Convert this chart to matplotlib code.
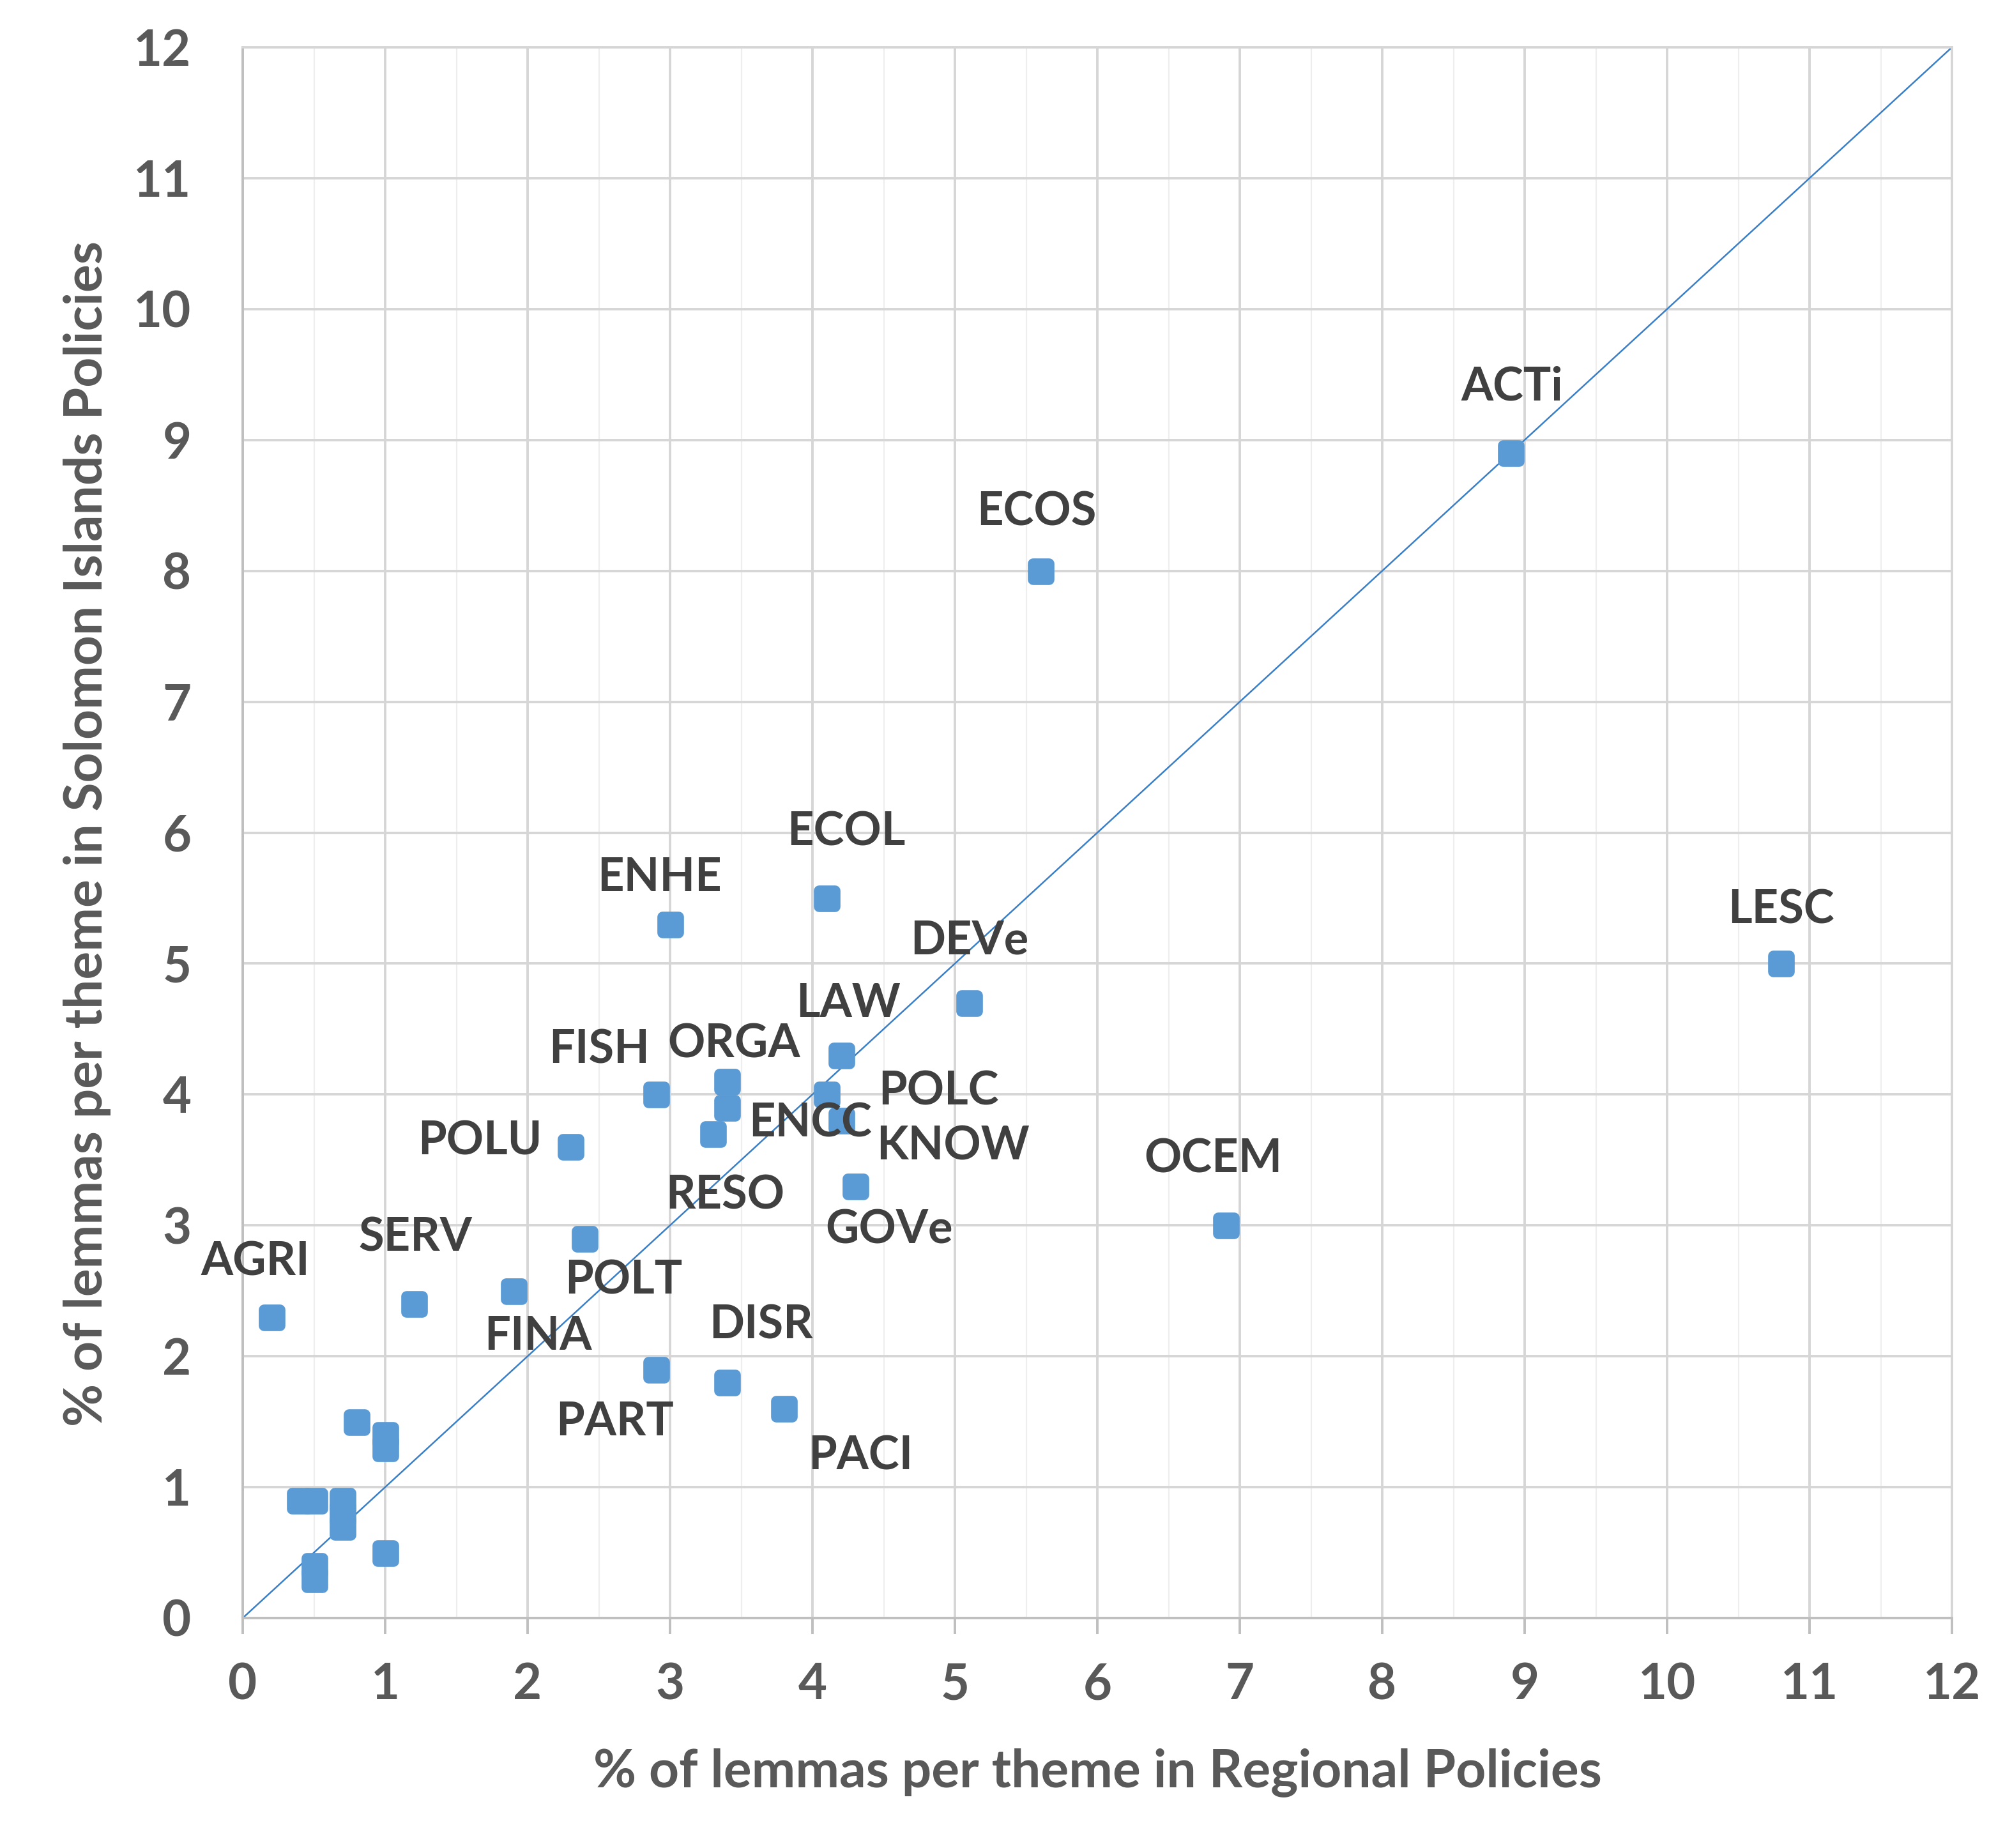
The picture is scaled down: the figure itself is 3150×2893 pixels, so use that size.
import matplotlib
matplotlib.use("Agg")
import matplotlib.pyplot as plt
from matplotlib.ticker import MultipleLocator
from matplotlib.markers import MarkerStyle

# ---- data ----
themes = ["ACTi", "ECOS", "LESC", "OCEM", "ECOL", "ENHE", "DEVe", "LAW",
          "FISH", "ORGA", "POLC", "ENCC", "KNOW", "RESO", "POLU", "GOVe",
          "POLT", "FINA", "SERV", "AGRI", "PART", "DISR", "PACI",
          "", "", "", "", "", "", "", "", "", "", ""]
regional = [8.9, 5.6, 10.8, 6.9, 4.1, 3.0, 5.1, 4.2,
            2.9, 3.4, 4.1, 3.4, 4.2, 3.3, 2.3, 4.3,
            2.4, 1.9, 1.2, 0.2, 2.9, 3.4, 3.8,
            0.8, 1.0, 1.0, 0.4, 0.5, 0.7, 0.7, 0.7, 1.0, 0.5, 0.5]
solomon = [8.9, 8.0, 5.0, 3.0, 5.5, 5.3, 4.7, 4.3,
           4.0, 4.1, 4.0, 3.9, 3.8, 3.7, 3.6, 3.3,
           2.9, 2.5, 2.4, 2.3, 1.9, 1.8, 1.6,
           1.5, 1.4, 1.3, 0.9, 0.9, 0.9, 0.8, 0.7, 0.5, 0.4, 0.3]
# label offsets (points) relative to each marker
label_dx = [1, -2, 0, -7, 11, -6, 0, 4,
            -32, 4, 63, 47, 63, 7, -51, 19,
            22, 14, 1, -9, -23, 19, 43]
label_dy = [37, 33, 30, 37, 37, 26, 35, 29,
            25, 21, 1.5, -9, -14.5, -35, 3, -25,
            -24, -26, 37, 31, -30, 32, -27]

xticks = list(range(0, 13))
yticks = list(range(0, 13))
xlabel = "% of lemmas per theme in Regional Policies"
ylabel = "% of lemmas per theme in Solomon Islands Policies"

# ---- style ----
FONT = ["Lato", "DejaVu Sans"]
plt.rcParams["font.family"] = FONT
TICK_C = "#595959"
LABEL_C = "#404040"
GRID_C = "#D6D6D6"
AXIS_C = "#BFBFBF"
MARK_C = "#5B9BD5"
LINE_C = "#3A7FC6"

W, H = 3150, 2893
fig = plt.figure(figsize=(W / 200, H / 200), dpi=200)
fig.patch.set_facecolor("white")
ax = fig.add_axes([380 / W, 1 - 2533 / H, (3056 - 380) / W, (2533 - 74) / H])

ax.set_xlim(0, 12)
ax.set_ylim(0, 12)
ax.set_xticks(xticks)
ax.set_yticks(yticks)
ax.xaxis.set_minor_locator(MultipleLocator(0.5))

ax.grid(True, which="major", color=GRID_C, lw=1.4, zorder=0)
ax.grid(True, which="minor", axis="x", color="#EEEEEE", lw=0.8, zorder=0)
ax.set_axisbelow(True)
for s in ax.spines.values():
    s.set_color(GRID_C)
    s.set_linewidth(1.4)
ax.spines["left"].set_color(AXIS_C)
ax.spines["bottom"].set_color(AXIS_C)

ax.tick_params(axis="both", which="major", width=1.4, color=AXIS_C,
               labelsize=28, labelcolor=TICK_C)
ax.tick_params(axis="both", which="minor", length=0)
ax.tick_params(axis="x", length=9, pad=16)
ax.tick_params(axis="y", length=0, pad=29)
for lab in ax.get_xticklabels() + ax.get_yticklabels():
    lab.set_fontweight("bold")

# diagonal reference line
ax.plot([0, 12], [0, 12], color=LINE_C, lw=0.9, zorder=2)

# markers (rounded squares)
mk = MarkerStyle("s", joinstyle="round")
ax.plot(regional, solomon, linestyle="none", marker=mk, markersize=9,
        markerfacecolor=MARK_C, markeredgecolor=MARK_C, markeredgewidth=6,
        zorder=3)

# data labels
for i, name in enumerate(themes):
    if not name:
        continue
    ax.annotate(name, (regional[i], solomon[i]), xytext=(label_dx[i], label_dy[i]),
                textcoords="offset points", ha="center", va="center",
                fontsize=26, fontweight="bold", color=LABEL_C, zorder=4)

fig.text((380 + 3056) / 2 / W, 1 - 2775 / H, xlabel, ha="center", va="center",
         fontsize=29.5, fontweight="bold", color=TICK_C)
fig.text(137 / W, 1 - 1305 / H, ylabel, ha="center", va="center", rotation=90,
         fontsize=29.5, fontweight="bold", color=TICK_C)

fig.savefig("out.png", dpi=200, facecolor="white")
